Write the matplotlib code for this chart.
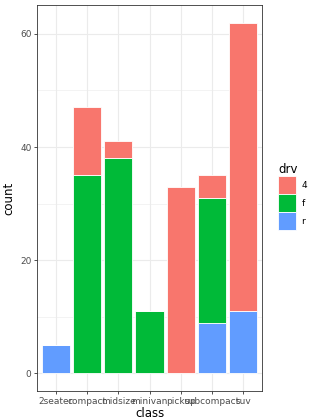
import matplotlib.pyplot as plt
import numpy as np
from matplotlib.patches import Patch

classes = ["2seater", "compact", "midsize", "minivan", "pickup", "subcompact", "suv"]
drv_levels = ["4", "f", "r"]
count_4 = [0, 12, 3, 0, 33, 4, 51]
count_f = [0, 35, 38, 11, 0, 22, 0]
count_r = [5, 0, 0, 0, 0, 9, 11]
colors = {"4": "#F8766D", "f": "#00BA38", "r": "#619CFF"}

fig = plt.figure(figsize=(3.1, 4.19), dpi=100)
ax = fig.add_axes([37 / 310, 1 - 391 / 419, 225 / 310, 386 / 419])

x = np.arange(1, len(classes) + 1)
# ggplot stacks first level on top: r at bottom, then f, then 4
bottom = np.zeros(len(classes))
for lvl, vals in [("r", count_r), ("f", count_f), ("4", count_4)]:
    vals = np.array(vals, dtype=float)
    ax.bar(x, vals, width=0.9, bottom=bottom, color=colors[lvl],
           edgecolor="white", linewidth=0.6, zorder=3)
    bottom += vals

ax.set_xlim(0.4, 7.6)
ax.set_ylim(-3.1, 65.1)
ax.set_yticks([0, 20, 40, 60])
ax.set_yticks([10, 30, 50], minor=True)
ax.set_xticks(x)
ax.set_xticklabels(classes)
ax.grid(which="major", color="#EBEBEB", linewidth=0.8, zorder=0)
ax.grid(which="minor", axis="y", color="#EBEBEB", linewidth=0.4, zorder=0)
ax.tick_params(which="major", length=2.5, width=0.6, color="#333333",
               labelsize=6.5, labelcolor="#4D4D4D", pad=1.5)
ax.tick_params(which="minor", length=0)
for s in ax.spines.values():
    s.set_color("#333333")
    s.set_linewidth(0.6)
ax.set_xlabel("class", fontsize=8.5, labelpad=1)
ax.set_ylabel("count", fontsize=8.5, labelpad=3)

handles = [Patch(facecolor=colors[l], edgecolor="white", linewidth=0.6, label=l)
           for l in drv_levels]
leg = fig.legend(handles=handles, title="drv", loc="upper left",
                 bbox_to_anchor=(278 / 310, 1 - 163 / 419), frameon=False,
                 fontsize=6.5, title_fontsize=8.5, handlelength=2.0,
                 handleheight=2.7, handletextpad=0.6, labelspacing=0.0,
                 borderaxespad=0, borderpad=0)
leg._legend_box.align = "left"

fig.savefig("out.png", dpi=100)
